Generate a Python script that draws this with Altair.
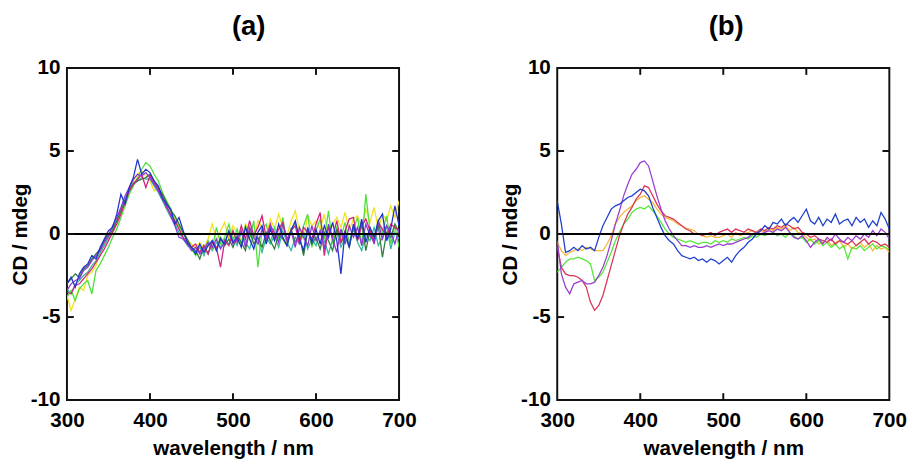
import altair as alt
import pandas as pd

# ---------------- data ----------------
wl = list(range(300, 701, 5))  # 81 wavelengths, 5 nm step

# panel (a): seven nearly coincident noisy spectra
a_blue = [-3.0, -2.6, -3.2, -2.4, -2.0, -1.8, -1.3, -1.5, -0.8, -0.3,
          0.2, 0.4, 1.2, 2.4, 1.8, 2.8, 3.4, 4.5, 3.6, 3.9,
          3.7, 3.2, 2.9, 2.2, 1.8, 1.5, 0.6, 1.0, 0.2, -0.5,
          -0.8, -1.2, -0.6, -1.1, -0.7, -0.4, -1.0, -0.3, -0.6, 0.2,
          -0.5, -0.2, -0.8, 0.4, -0.3, -0.9, 0.1, 0.5, -0.6, 0.3,
          -0.4, 0.6, -0.2, -0.7, 0.2, 0.8, -0.3, -1.0, 0.4, -0.5,
          0.3, -0.6, 0.5, -0.2, 0.7, -0.4, -2.4, 0.2, -0.8, 0.6,
          -0.3, 0.9, -0.5, 0.4, -0.2, 0.8, 1.2, -0.4, 0.3, 1.7,
          0.5]
a_purple = [-3.4, -3.0, -2.8, -2.7, -2.2, -2.0, -1.6, -1.3, -1.0, -0.5,
            -0.1, 0.5, 1.0, 1.6, 2.3, 2.8, 3.3, 3.6, 3.5, 3.7,
            3.4, 3.0, 2.6, 2.1, 1.7, 1.1, 0.5, -0.2, -0.3, -0.6,
            -1.0, -0.8, -1.2, -0.9, -0.5, -0.8, -0.3, -0.9, -0.5, 0.1,
            -0.6, -0.3, 0.2, -0.8, 0.4, -0.2, -0.6, 0.3, -0.4, 0.5,
            0.1, -0.5, 0.6, -0.3, 0.2, -0.8, 0.4, -0.2, -0.7, 0.5,
            -0.4, 0.2, -0.9, 0.6, -0.3, -1.1, 0.3, -0.6, 0.5, -0.2,
            0.4, -0.7, 0.6, -0.1, -0.5, 0.7, -0.3, 0.5, 0.1, -0.6,
            0.3]
a_crimson = [-3.5, -3.6, -3.1, -3.0, -2.7, -2.4, -2.1, -1.7, -1.3, -0.9,
             -0.4, 0.1, 0.6, 1.2, 1.9, 2.6, 3.0, 3.3, 3.6, 2.8,
             3.5, 3.1, 2.7, 2.2, 1.6, 1.2, 0.8, 0.3, -0.2, -0.5,
             -0.8, -0.6, -1.1, -0.7, -1.2, -0.5, -0.8, -2.0, -0.4, -0.7,
             0.2, -0.5, 0.5, -0.3, 0.8, -0.1, 0.4, 1.1, -0.2, 0.6,
             -0.3, 0.3, 0.7, -0.4, 0.2, 0.5, -0.6, 0.4, 0.1, -0.3,
             0.6, 1.3, -1.3, 0.4, -0.2, 0.8, -0.5, 0.2, 0.9, 1.0,
             -0.4, 0.5, 0.9, 0.2, -0.6, 0.7, 0.3, -0.2, 0.6, 0.4,
             0.2]
a_green = [-3.8, -3.4, -4.0, -3.3, -3.0, -2.8, -3.6, -2.2, -1.8, -1.3,
           -0.8, -0.2, 0.3, 1.0, 1.7, 2.4, 2.9, 3.4, 3.9, 4.3,
           4.1, 3.6, 3.2, 2.5, 2.0, 1.5, 1.0, 0.5, 0.0, -0.4,
           -0.9, -1.3, -0.7, -1.1, -0.4, -0.9, 0.4, -0.6, -0.2, 0.6,
           -0.4, 0.3, -0.7, 0.5, -0.3, 0.8, -2.0, 0.2, 0.6, -0.5,
           0.4, -0.3, 1.0, -0.6, 0.3, 0.7, -0.4, 0.5, 1.2, -0.8,
           0.2, 0.9, -0.3, 1.4, -0.6, 0.4, -0.2, 0.7, -0.5, 0.3,
           1.0, -0.7, 2.4, 0.2, -0.4, 0.9, 0.1, 1.1, -0.6, 0.5,
           -0.8]
a_yellow = [-3.7, -4.6, -3.9, -3.2, -3.4, -2.5, -2.3, -1.9, -1.2, -0.6,
            -0.3, 0.2, 0.7, 1.3, 2.0, 2.7, 3.2, 3.6, 3.8, 3.5,
            3.2, 2.6, 2.8, 2.3, 1.8, 1.3, 0.8, 0.4, 0.0, -0.4,
            -0.6, -0.9, -0.5, -0.8, -0.3, 0.6, -0.4, 0.2, 0.7, -0.3,
            0.5, 0.1, -0.4, 0.6, 0.2, -0.3, 0.8, 0.4, -0.2, 0.9,
            0.3, 1.2, 0.4, -0.1, 0.8, 1.4, 0.2, -0.3, 1.1, 0.5,
            0.8, 0.3, 1.2, -0.2, 0.6, 1.0, 0.4, 1.3, 0.2, 0.9,
            1.1, 0.4, 1.5, 0.7, 1.6, 0.3, 1.2, 0.8, 1.7, 1.0,
            2.0]
a_teal = [-3.3, -3.6, -3.0, -2.8, -2.5, -2.3, -1.9, -1.6, -1.1, -0.7,
          -0.2, 0.3, 0.8, 1.5, 2.1, 2.7, 3.1, 3.2, 3.4, 3.3,
          3.3, 2.9, 2.5, 2.0, 1.5, 1.0, 0.6, 0.1, -0.3, -0.7,
          -0.9, -1.1, -0.8, -1.3, -0.6, -1.0, -0.5, -0.8, -0.3, -0.6,
          -0.2, -0.7, 0.1, -0.5, -0.9, 0.0, -0.4, -1.1, -0.2, -0.6,
          -0.1, -0.8, 0.2, -0.5, -1.0, -0.2, -0.6, 0.1, -0.9, -0.3,
          -0.7, 0.2, -0.4, -1.2, -0.3, 0.1, -0.8, -0.2, -0.6, 0.3,
          -0.5, -1.0, 0.0, -0.4, 0.4, -0.7, -0.2, 0.5, -0.9, 0.1,
          -0.3]
a_darkgreen = [-3.0, -2.7, -2.4, -2.6, -2.1, -1.9, -1.5, -1.2, -0.9, -0.4,
               0.0, 0.2, 0.8, 1.4, 2.0, 2.6, 3.0, 3.2, 3.3, 3.4,
               3.6, 3.2, 2.8, 2.4, 1.9, 1.4, 1.1, 0.6, 0.1, -0.3,
               -0.8, -1.0, -1.5, -0.7, -1.2, -0.4, -0.9, -0.2, -0.7, -0.3,
               -0.8, -0.1, -0.5, -1.0, 0.2, -0.6, -0.2, -0.8, 0.1, -0.4,
               -0.9, 0.0, -0.3, -0.7, 0.3, -0.5, -0.1, -1.3, 0.2, -0.6,
               -0.2, -0.9, 0.1, -0.4, -1.0, 0.3, -0.5, -0.1, -0.8, 0.4,
               -0.3, 0.7, -1.0, 0.2, -0.4, 0.5, -1.4, 0.1, -0.2, 0.6,
               0.1]

# panel (b): five distinct spectra
b_blue = [2.0, 0.6, -1.1, -1.0, -0.8, -1.0, -0.7, -0.9, -0.8, -1.0,
          -0.2, 0.5, 1.0, 1.5, 1.7, 1.8, 2.0, 2.2, 2.3, 2.5,
          2.7, 2.6, 2.3, 1.6, 1.0, 0.4, -0.1, -0.4, -0.6, -1.0,
          -1.3, -1.4, -1.5, -1.4, -1.6, -1.5, -1.7, -1.5, -1.6, -1.8,
          -1.6, -1.4, -1.7, -1.3, -1.0, -0.8, -0.5, -0.3, 0.0, 0.2,
          0.5, 0.3, 0.7, 0.6, 0.9, 0.5, 0.8, 1.0, 0.7, 1.1,
          1.5, 0.8, 0.6, 1.0, 0.5, 0.9, 0.7, 1.2, 0.6, 0.8,
          0.9, 0.5, 1.0, 0.7, 0.9, 0.4, 0.8, 0.5, 1.3, 0.9,
          0.3]
b_orange = [-0.5, -1.0, -1.3, -1.1, -1.0, -0.9, -1.0, -0.8, -0.9, -1.0,
            -1.0, -1.0, -0.6, -0.1, 0.6, 1.0, 1.3, 1.5, 1.7, 2.0,
            2.2, 2.3, 2.1, 1.9, 1.5, 1.2, 1.0, 0.9, 0.8, 0.6,
            0.5, 0.35, 0.3, 0.2, 0.0, -0.1, -0.2, -0.1, -0.2, -0.2,
            -0.1, 0.0, -0.2, 0.1, -0.1, 0.0, 0.1, 0.2, 0.0, 0.2,
            0.1, 0.3, 0.2, 0.4, 0.3, 0.5, 0.2, 0.4, 0.1, 0.0,
            -0.2, -0.4, -0.3, -0.6, -0.5, -0.3, -0.7, -0.5, -0.4, -0.8,
            -0.6, -0.9, -0.7, -0.5, -0.8, -0.6, -1.0, -0.7, -0.9, -0.8,
            -1.1]
b_green = [-2.3, -2.0, -1.7, -1.5, -1.5, -1.4, -1.5, -1.6, -1.8, -2.8,
           -2.6, -2.3, -1.7, -1.1, -0.4, 0.1, 0.6, 0.9, 1.3, 1.5,
           1.6, 1.5, 1.7, 1.4, 1.1, 0.7, 0.3, 0.0, -0.2, -0.3,
           -0.4, -0.5, -0.4, -0.5, -0.6, -0.5, -0.5, -0.6, -0.4, -0.5,
           -0.4, -0.5, -0.3, -0.4, -0.3, -0.2, -0.3, -0.1, -0.2, 0.0,
           -0.1, 0.0, 0.1, -0.1, 0.0, -0.2, 0.1, -0.1, -0.3, -0.2,
           -0.5, -0.3, -0.6, -0.4, -0.7, -0.5, -0.8, -0.6, -0.9, -0.7,
           -1.5, -0.8, -0.9, -0.7, -1.0, -0.8, -0.6, -0.9, -0.7, -0.8,
           -0.9]
b_purple = [-0.4, -2.4, -3.2, -3.6, -3.0, -2.9, -2.8, -3.0, -3.0, -2.9,
            -2.5, -2.0, -1.3, -0.4, 0.6, 1.4, 2.3, 3.0, 3.6, 3.9,
            4.3, 4.4, 4.1, 3.2, 2.3, 1.5, 0.8, 0.3, -0.1, -0.4,
            -0.7, -0.7, -0.8, -0.7, -0.8, -0.8, -0.7, -0.8, -0.7, -0.6,
            -0.7, -0.6, -0.6, -0.5, -0.4, -0.3, -0.2, 0.0, 0.1, 0.0,
            0.1, 0.2, 0.1, 0.3, 0.2, 0.4, 0.1, -0.2, -0.3, -0.1,
            -0.4, -0.8, -0.5, -0.3, -0.6, -0.2, -0.4, 0.0, -0.3, -0.5,
            -0.2, -0.4, -0.1, -0.3, 0.0, -0.2, 0.2, -0.1, 0.3, 0.1,
            -0.3]
b_red = [-0.8, -2.0, -2.4, -2.5, -2.5, -2.6, -2.8, -3.2, -4.1, -4.6,
         -4.3, -3.7, -2.8, -1.9, -1.0, -0.1, 0.6, 1.2, 1.6, 2.1,
         2.4, 2.9, 2.8, 2.3, 1.8, 1.4, 1.1, 1.0, 0.9, 0.7,
         0.5, 0.3, 0.2, 0.0, 0.0, -0.1, 0.0, 0.1, -0.1, 0.1,
         0.2, 0.3, 0.1, 0.3, 0.2, 0.1, 0.3, 0.2, 0.1, 0.3,
         0.2, 0.4, 0.3, 0.5, 0.4, 0.6, 0.5, 0.3, 0.4, 0.1,
         0.0, -0.2, -0.1, -0.3, -0.4, -0.5, -0.3, -0.6, -0.4, -0.5,
         -0.6, -0.4, -0.7, -0.5, -0.3, -0.6, -0.4, -0.5, -0.7, -0.6,
         -0.8]

a_names = ["a-yellow", "a-teal", "a-green", "a-darkgreen", "a-crimson", "a-purple", "a-blue"]
a_colors = ["#f2e21a", "#33b8a0", "#4ee03c", "#2f7d3a", "#d4207a", "#8e35d6", "#2233cc"]
a_series = [a_yellow, a_teal, a_green, a_darkgreen, a_crimson, a_purple, a_blue]

b_names = ["b-orange", "b-green", "b-red", "b-purple", "b-blue"]
b_colors = ["#f5b93a", "#55e83a", "#d9365a", "#9a3fd0", "#1f3fcf"]
b_series = [b_orange, b_green, b_red, b_purple, b_blue]

x_ticks = [300, 400, 500, 600, 700]
y_ticks = [-10, -5, 0, 5, 10]

FONT = "Liberation Sans"


def long_frame(names, series):
    rows = []
    for n, s in zip(names, series):
        for w, v in zip(wl, s):
            rows.append({"wl": w, "cd": v, "series": n})
    return pd.DataFrame(rows)


def panel(names, colors, series, title, dx, width, height):
    xs = alt.Scale(domain=[300, 700], nice=False)
    ys = alt.Scale(domain=[-10, 10], nice=False)
    df = long_frame(names, series)
    lines = alt.Chart(df).mark_line(strokeWidth=1.3, clip=True).encode(
        x=alt.X("wl:Q", scale=xs,
                axis=alt.Axis(values=x_ticks, title="wavelength / nm", labelFlush=False,
                              labelExpr="datum.value + ''")),
        y=alt.Y("cd:Q", scale=ys,
                axis=alt.Axis(values=y_ticks, title="CD / mdeg", labelFlush=False,
                              labelExpr="datum.value + ''")),
        color=alt.Color("series:N", scale=alt.Scale(domain=names, range=colors), legend=None),
        detail="series:N",
    )
    zero = alt.Chart(pd.DataFrame({"cd": [0]})).mark_rule(color="black", strokeWidth=2).encode(
        y=alt.Y("cd:Q", scale=ys))
    xt = pd.DataFrame({"wl": x_ticks[1:-1]})
    yt = pd.DataFrame({"cd": y_ticks[1:-1]})
    tick_style = dict(color="#111111", strokeWidth=2)
    tb = alt.Chart(xt).mark_rule(**tick_style).encode(
        x=alt.X("wl:Q", scale=xs), y=alt.value(height), y2=alt.value(height - 7))
    tt = alt.Chart(xt).mark_rule(**tick_style).encode(
        x=alt.X("wl:Q", scale=xs), y=alt.value(0), y2=alt.value(7))
    tl = alt.Chart(yt).mark_rule(**tick_style).encode(
        y=alt.Y("cd:Q", scale=ys), x=alt.value(0), x2=alt.value(7))
    tr = alt.Chart(yt).mark_rule(**tick_style).encode(
        y=alt.Y("cd:Q", scale=ys), x=alt.value(width), x2=alt.value(width - 7))
    return alt.layer(lines, zero, tb, tt, tl, tr).properties(
        width=width, height=height,
        title=alt.TitleParams(title, fontSize=28, font=FONT, fontWeight="bold",
                              color="black", offset=17, dx=dx),
    )


pa = panel(a_names, a_colors, a_series, "(a)", 16, 338, 338)
pb = panel(b_names, b_colors, b_series, "(b)", 3, 338, 338)

chart = alt.hconcat(pa, pb, spacing=161, bounds="flush").resolve_scale(
    color="independent"
).properties(
    padding=0
).configure_view(
    stroke="#111111", strokeWidth=2
).configure_axis(
    ticks=False, domain=False, grid=False,
    labelFont=FONT, labelFontWeight="bold", labelFontSize=21, labelColor="black",
    titleFont=FONT, titleFontWeight="bold", titleFontSize=21, titleColor="black",
).configure_axisX(
    labelPadding=10, titlePadding=7,
).configure_axisY(
    labelPadding=7, titlePadding=0,
)

chart.save("out.html", embed_options={"renderer": "svg", "actions": False})
